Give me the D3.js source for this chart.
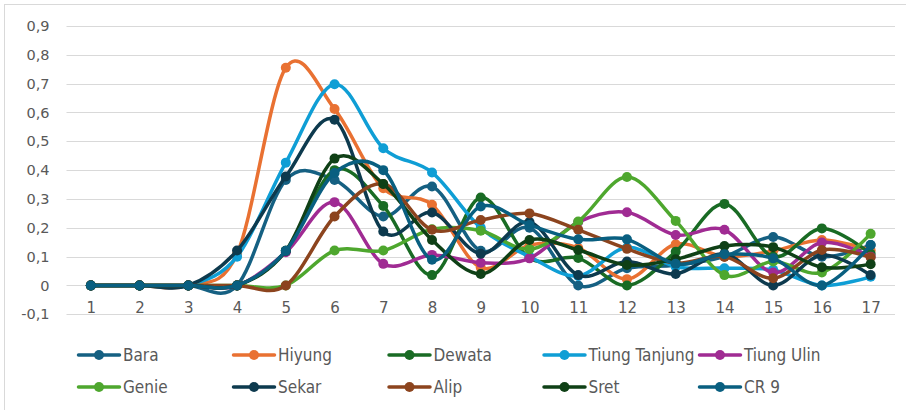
<!DOCTYPE html>
<html>
<head>
<meta charset="utf-8">
<script src="https://cdn.jsdelivr.net/npm/d3@7"></script>
<style>
  html, body { margin: 0; padding: 0; background: #fff; }
  svg { display: block; }
</style>
</head>
<body>
<svg id="chart" width="906" height="410"></svg>
<script>
// Categories on the horizontal axis
const categories = [1, 2, 3, 4, 5, 6, 7, 8, 9, 10, 11, 12, 13, 14, 15, 16, 17];

// Series values, one list per variety
const bara         = [0, 0, 0, 0, 0.366, 0.366, 0.239, 0.343, 0.12, 0.2, 0, 0.06, 0.07, 0.1, 0.168, 0.1, 0.14];
const hiyung       = [0, 0, 0, 0.11, 0.755, 0.612, 0.337, 0.28, 0.062, 0.14, 0.13, 0.022, 0.143, 0.1, 0.12, 0.158, 0.122];
const dewata       = [0, 0, 0, 0, 0.12, 0.4, 0.276, 0.036, 0.305, 0.095, 0.095, 0, 0.117, 0.283, 0.1, 0.198, 0.11];
const tiungTanjung = [0, 0, 0, 0.1, 0.426, 0.698, 0.476, 0.392, 0.2, 0.1, 0.033, 0.132, 0.065, 0.06, 0.054, 0, 0.03];
const tiungUlin    = [0, 0, 0, 0, 0.115, 0.289, 0.075, 0.106, 0.079, 0.094, 0.22, 0.254, 0.175, 0.193, 0.045, 0.149, 0.1];
const genie        = [0, 0, 0, 0, 0, 0.121, 0.121, 0.195, 0.19, 0.126, 0.222, 0.376, 0.224, 0.036, 0.083, 0.045, 0.179];
const sekar        = [0, 0, 0, 0.121, 0.378, 0.575, 0.187, 0.253, 0.11, 0.22, 0.036, 0.083, 0.04, 0.11, 0, 0.105, 0.036];
const alip         = [0, 0, 0, 0, 0, 0.239, 0.352, 0.193, 0.227, 0.25, 0.193, 0.127, 0.078, 0.1, 0.025, 0.123, 0.098];
const sret         = [0, 0, 0, 0, 0.12, 0.44, 0.352, 0.158, 0.04, 0.158, 0.123, 0.071, 0.091, 0.137, 0.133, 0.063, 0.074];
const cr9          = [0, 0, 0, 0, 0.12, 0.39, 0.4, 0.089, 0.274, 0.21, 0.16, 0.16, 0.075, 0.108, 0.094, 0, 0.14];

// Tick labels of the value axis
const yTicks = [-0.1, 0, 0.1, 0.2, 0.3, 0.4, 0.5, 0.6, 0.7, 0.8, 0.9];

const seriesNames  = ["Bara", "Hiyung", "Dewata", "Tiung Tanjung", "Tiung Ulin", "Genie", "Sekar", "Alip", "Sret", "CR 9"];
const seriesValues = [bara, hiyung, dewata, tiungTanjung, tiungUlin, genie, sekar, alip, sret, cr9];
const seriesColors = ["#156082", "#E97132", "#196B24", "#0F9ED5", "#A02B93", "#4EA72E", "#0D3A4E", "#8C441E", "#0F4016", "#095F80"];

const series = seriesNames.map((name, i) => ({ name, values: seriesValues[i], color: seriesColors[i] }));

const svg = d3.select("#chart");
const tickFmt = v => (Math.abs(v) < 1e-9 ? "0" : d3.format(".1f")(v).replace(".", ",").replace("−", "-"));
const axisFont = "'DejaVu Sans', 'Open Sans', sans-serif";

// Chart area frame
svg.append("rect")
  .attr("x", 4.5).attr("y", 4.5)
  .attr("width", 910).attr("height", 420)
  .attr("fill", "#fff").attr("stroke", "#D9D9D9").attr("stroke-width", 1);

const plotLeft = 66.5, plotRight = 895;
const x = d3.scaleBand().domain(categories).range([plotLeft, plotRight]).paddingInner(0).paddingOuter(0);
const xc = d => x(d) + x.bandwidth() / 2;
const y = d3.scaleLinear().domain([-0.1, 0.9]).range([314.3, 26]);

// Horizontal gridlines
svg.append("g")
  .selectAll("line")
  .data(yTicks)
  .join("line")
  .attr("x1", plotLeft).attr("x2", plotRight)
  .attr("y1", d => Math.round(y(d)) + 0.5).attr("y2", d => Math.round(y(d)) + 0.5)
  .attr("stroke", "#D9D9D9").attr("stroke-width", 1);

// Value axis labels
const yAxis = d3.axisLeft(y).tickValues(yTicks).tickFormat(tickFmt).tickSize(0).tickPadding(0);
const gy = svg.append("g").attr("transform", `translate(${49.5},0)`).call(yAxis);
gy.select(".domain").remove();
gy.selectAll("text")
  .attr("fill", "#595959")
  .style("font-family", axisFont)
  .style("font-size", "14.5px");

// Category axis labels, placed just above the lowest gridline
const xAxis = d3.axisBottom(d3.scalePoint().domain(categories).range([xc(1), xc(17)]))
  .tickSize(0).tickPadding(0);
const gx = svg.append("g").attr("transform", `translate(0,${302})`).call(xAxis);
gx.select(".domain").remove();
gx.selectAll("text")
  .attr("fill", "#595959")
  .style("font-family", axisFont)
  .style("font-size", "15px");

// Smoothed lines with markers
const line = d3.line()
  .x((d, i) => xc(categories[i]))
  .y(d => y(d))
  .curve(d3.curveCatmullRom.alpha(0));

const gSeries = svg.append("g").selectAll("g")
  .data(series)
  .join("g");

gSeries.append("path")
  .attr("d", s => line(s.values))
  .attr("fill", "none")
  .attr("stroke", s => s.color)
  .attr("stroke-width", 3.5)
  .attr("stroke-linejoin", "round")
  .attr("stroke-linecap", "round");

gSeries.selectAll("circle")
  .data(s => s.values.map((v, i) => ({ v, i, color: s.color })))
  .join("circle")
  .attr("cx", d => xc(categories[d.i]))
  .attr("cy", d => y(d.v))
  .attr("r", 5)
  .attr("fill", d => d.color);

// Legend: two rows of five entries
const legendX = [78.5, 233.5, 389, 544, 699.5];
const legendY = [355, 387];
const legend = svg.append("g").selectAll("g")
  .data(series)
  .join("g")
  .attr("transform", (d, i) => `translate(${legendX[i % 5]},${legendY[Math.floor(i / 5)]})`);

legend.append("line")
  .attr("x1", 0).attr("x2", 41).attr("y1", 0).attr("y2", 0)
  .attr("stroke", d => d.color).attr("stroke-width", 3.5)
  .attr("stroke-linecap", "round");
legend.append("circle")
  .attr("cx", 20.5).attr("cy", 0).attr("r", 5)
  .attr("fill", d => d.color);
legend.append("text")
  .attr("x", 44.5).attr("y", 0).attr("dy", "0.36em")
  .attr("fill", "#595959")
  .style("font-family", "'DejaVu Sans Condensed', 'Liberation Sans Narrow', sans-serif")
  .style("font-size", "17px")
  .text(d => d.name);
</script>
</body>
</html>
